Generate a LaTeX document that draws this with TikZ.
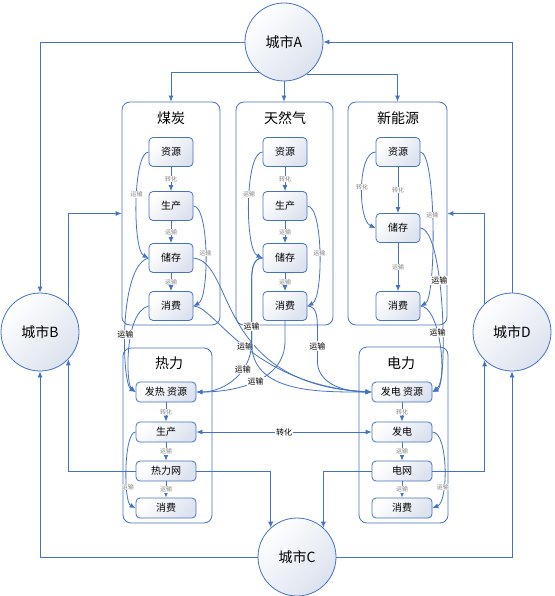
\documentclass[tikz,border=0pt]{standalone}
\usepackage{fontspec}
\setmainfont{Noto Sans CJK SC}
\usetikzlibrary{arrows.meta}
\definecolor{linec}{RGB}{68,114,196}
\definecolor{shadec}{RGB}{220,226,238}
\definecolor{labc}{RGB}{130,130,130}
\begin{document}
\begin{tikzpicture}[x=1pt,y=-1pt,line width=0.8pt,
    grp/.style={draw=linec,rounded corners=8pt,fill=white},
    item/.style={draw=linec,rounded corners=4pt,top color=white,bottom color=shadec,shading angle=45,
      minimum width=44pt,minimum height=29pt,inner sep=0pt,font=\fontsize{10}{12}\selectfont},
    low/.style={item,minimum width=60pt,minimum height=20pt},
    city/.style={draw=linec,circle,minimum size=78pt,inner sep=0pt,top color=white,bottom color=shadec,
      shading angle=45,font=\fontsize{14}{16}\selectfont},
    ttl/.style={font=\fontsize{14}{16}\selectfont},
    link/.style={draw=linec,-{Latex[length=6pt,width=5pt]}},
    both/.style={draw=linec,{Latex[length=6pt,width=5pt]}-{Latex[length=6pt,width=5pt]}},
    sublab/.style={fill=white,text=labc,inner sep=0.5pt,font=\fontsize{6}{7}\selectfont},
    xlab/.style={fill=white,inner sep=0.8pt,font=\fontsize{8}{9}\selectfont}]
  \useasboundingbox (0,0) rectangle (554,596);

  % groups
  \node[grp,minimum width=98pt,minimum height=223pt] (coal) at (171,213.5) {};
  \node[grp,minimum width=97pt,minimum height=223pt] (gas) at (284.5,213.5) {};
  \node[grp,minimum width=99pt,minimum height=223pt] (new) at (397.5,213.5) {};
  \node[grp,minimum width=89pt,minimum height=175pt] (heat) at (167.5,435.5) {};
  \node[grp,minimum width=89pt,minimum height=176pt] (elec) at (403.5,435) {};
  \node[ttl] (coalttl) at (171,118) {煤炭};
  \node[ttl] (gasttl) at (285,118) {天然气};
  \node[ttl] (newttl) at (398,118) {新能源};
  \node[ttl] (heatttl) at (169,363) {热力};
  \node[ttl] (electtl) at (401,363) {电力};

  % cities
  \node[city] (cityA) at (284,42) {城市A};
  \node[city] (cityB) at (40,332) {城市B};
  \node[city] (cityC) at (297,557) {城市C};
  \node[city] (cityD) at (512,332) {城市D};

  % items
  \node[item] (coalres) at (171,152) {资源};
  \node[item] (coalprod) at (171,206) {生产};
  \node[item] (coalsto) at (171,258) {储存};
  \node[item] (coalcon) at (171,306) {消费};
  \node[item] (gasres) at (285,152) {资源};
  \node[item] (gasprod) at (285,206) {生产};
  \node[item] (gassto) at (285,258) {储存};
  \node[item] (gascon) at (285,306) {消费};
  \node[item] (newres) at (398,152) {资源};
  \node[item] (newsto) at (398,228) {储存};
  \node[item] (newcon) at (398,306) {消费};
  \node[low] (heatres) at (166,392) {发热 资源};
  \node[low] (heatprod) at (166,432) {生产};
  \node[low] (heatnet) at (166,471) {热力网};
  \node[low] (heatcon) at (166,508) {消费};
  \node[low] (elecres) at (402,392) {发电 资源};
  \node[low] (elecgen) at (402,432) {发电};
  \node[low] (elecnet) at (402,471) {电网};
  \node[low] (eleccon) at (402,508) {消费};

  % inside the groups
  \draw[link] (coalres) -- node[sublab]{转化} (coalprod);
  \draw[link] (coalprod) -- node[sublab]{运输} (coalsto);
  \draw[link] (coalsto) -- node[sublab]{运输} (coalcon);
  \draw[link] (coalres.west) .. controls +(-16,0) and +(-16,-8) .. node[sublab,pos=0.45]{运输} (coalsto.west);
  \draw[link] (coalprod.east) .. controls +(16,0) and +(16,-8) .. node[sublab]{运输} (coalcon.east);
  \draw[link] (gasres) -- node[sublab]{转化} (gasprod);
  \draw[link] (gasprod) -- node[sublab]{运输} (gassto);
  \draw[link] (gassto) -- node[sublab]{运输} (gascon);
  \draw[link] (gasres.west) .. controls +(-18,0) and +(-18,-8) .. node[sublab,pos=0.45]{运输} (gassto.west);
  \draw[link] (gasprod.east) .. controls +(16,0) and +(16,-8) .. node[sublab]{运输} (gascon.east);
  \draw[link] (newres) -- node[sublab]{转化} (newsto);
  \draw[link] (newsto) -- node[sublab]{运输} (newcon);
  \draw[link] (newres.west) .. controls +(-18,0) and +(-18,-8) .. node[sublab]{转化} (newsto.west);
  \draw[link] (newres.east) .. controls +(16,0) and +(16,-8) .. node[sublab,pos=0.45]{运输} (newcon.east);
  \draw[link] (heatres) -- node[sublab]{转化} (heatprod);
  \draw[link] (heatprod) -- node[sublab]{运输} (heatnet);
  \draw[link] (heatnet) -- node[sublab]{运输} (heatcon);
  \draw[link] (heatprod.west) .. controls +(-12,0) and +(-12,-6) .. node[sublab,pos=0.68]{运输} (heatcon.west);
  \draw[link] (elecres) -- node[sublab]{转化} (elecgen);
  \draw[link] (elecgen) -- node[sublab]{运输} (elecnet);
  \draw[link] (elecnet) -- node[sublab]{运输} (eleccon);
  \draw[link] (elecgen.east) .. controls +(16,0) and +(16,-6) .. node[sublab,pos=0.68]{运输} (eleccon.east);

  % between the groups
  \draw[link] (coalcon.west) .. controls (124,312) and (126,384) .. (heatres.west);
  \draw[link] (coalsto.west) .. controls (118,266) and (122,384) .. node[xlab,pos=0.55]{运输} (heatres.west);
  \draw[link] (coalsto.east) .. controls (235,262) and (215,385) .. (elecres.west);
  \draw[link] (coalcon.east) .. controls (215,306) and (250,385) .. node[xlab,pos=0.5]{运输} (elecres.west);
  \draw[link] (gassto.west) to[out=180,in=90] ++(-11,25) -- ++(0,60) to[out=270,in=0] node[xlab,pos=0.35]{运输} (heatres.east);
  \draw[link] (gassto.west) to[out=180,in=90] ++(-11,25) -- node[xlab,pos=0.72]{运输} ++(0,60) to[out=270,in=180] (elecres.west);
  \draw[link] (gascon.south) -- ++(0,20) to[out=270,in=0] node[xlab]{运输} (heatres.east);
  \draw[link] (gascon.east) to[out=0,in=90] ++(10,25) -- node[xlab]{运输} ++(0,30) to[out=270,in=180] (elecres.west);
  \draw[link] (newsto.east) .. controls (445,230) and (448,385) .. node[xlab,pos=0.38]{运输} (elecres.east);
  \draw[link] (newcon.east) .. controls (440,306) and (448,380) .. node[xlab,pos=0.4]{运输} (elecres.east);
  \draw[both] (heatprod) -- node[xlab]{转化} (elecgen);

  % cities
  \draw[link] (cityA.230) -| (coal.north);
  \draw[link] (cityA.south) -- (cityA.south |- gas.north);
  \draw[link] (cityA.-55) -| (new.north);
  \draw[link] (cityA.west) -| (cityB.north);
  \draw[link] (cityD.north) |- (cityA.east);
  \draw[link] (cityC.west) -| (cityB.south);
  \draw[link] (cityC.east) -| (cityD.south);
  \draw[link] (cityB.44) |- (coal.west);
  \draw[link] (cityD.134) |- (new.east);
  \draw[link] (heatnet.west) -| (cityB.-44);
  \draw[link] (heatnet.east) -| (cityC.132);
  \draw[link] (elecnet.west) -| (cityC.48);
  \draw[link] (elecnet.east) -| (cityD.226);
\end{tikzpicture}
\end{document}
